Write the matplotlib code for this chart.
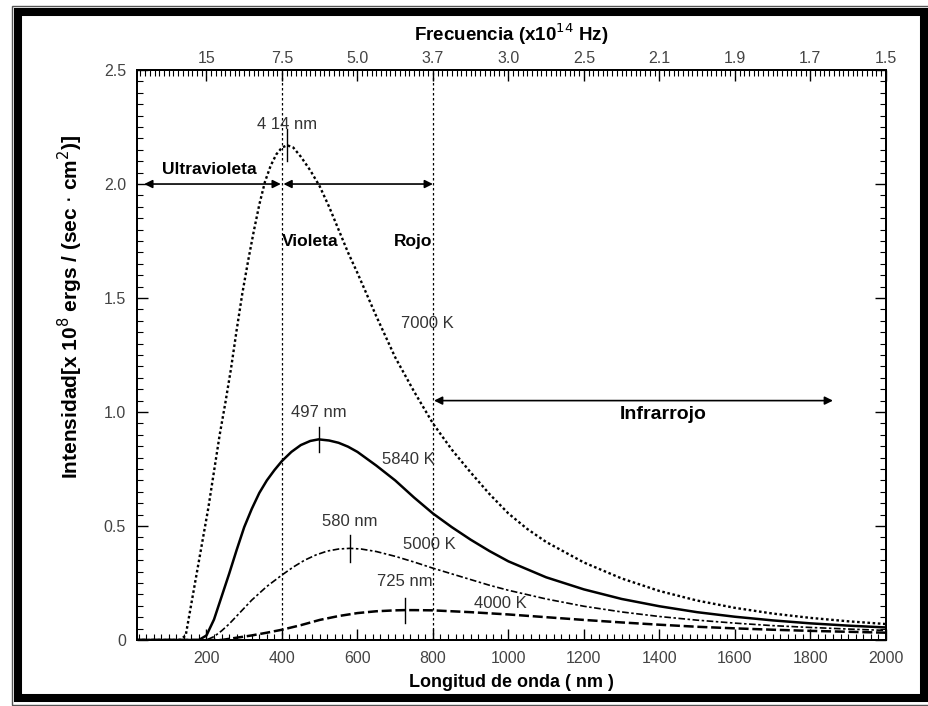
import matplotlib.pyplot as plt
from matplotlib.patches import Rectangle
from matplotlib.ticker import MultipleLocator

plt.rcParams['font.family'] = ['Liberation Sans Narrow', 'Liberation Sans', 'DejaVu Sans']

# -------------------------
# Data
# -------------------------
wl_7000 = [16, 130, 145, 160, 175, 190, 205, 220, 235, 250, 265, 280, 295, 310, 325, 340,
           355, 370, 385, 400, 414, 430, 450, 475, 500, 525, 550, 575, 600, 650, 700, 750,
           800, 850, 900, 950, 1000, 1050, 1100, 1200, 1300, 1400, 1500, 1600, 1700, 1800,
           1900, 2000]
i_7000 = [0.0, 0.0, 0.02, 0.16, 0.30, 0.44, 0.58, 0.74, 0.90, 1.04, 1.19, 1.36, 1.52, 1.66,
          1.79, 1.91, 2.01, 2.08, 2.13, 2.16, 2.17, 2.16, 2.12, 2.06, 1.99, 1.90, 1.80, 1.70,
          1.61, 1.42, 1.24, 1.09, 0.95, 0.835, 0.735, 0.64, 0.555, 0.487, 0.43, 0.34, 0.27,
          0.215, 0.173, 0.141, 0.116, 0.097, 0.082, 0.07]

wl_5840 = [16, 180, 200, 220, 240, 260, 280, 300, 320, 340, 360, 380, 400, 425, 450, 475,
           497, 525, 550, 575, 600, 650, 700, 750, 800, 850, 900, 950, 1000, 1100, 1200,
           1300, 1400, 1500, 1600, 1700, 1800, 1900, 2000]
i_5840 = [0.0, 0.0, 0.02, 0.09, 0.19, 0.29, 0.395, 0.495, 0.575, 0.645, 0.70, 0.745, 0.785,
          0.825, 0.855, 0.873, 0.88, 0.875, 0.865, 0.848, 0.825, 0.765, 0.70, 0.625, 0.555,
          0.495, 0.44, 0.39, 0.345, 0.275, 0.222, 0.18, 0.148, 0.122, 0.102, 0.086, 0.073,
          0.063, 0.055]

wl_5000 = [16, 200, 220, 240, 260, 280, 300, 320, 340, 360, 380, 400, 430, 460, 490, 520,
           550, 580, 610, 650, 700, 750, 800, 850, 900, 950, 1000, 1100, 1200, 1300, 1400,
           1500, 1600, 1700, 1800, 1900, 2000]
i_5000 = [0.0, 0.0, 0.015, 0.04, 0.07, 0.105, 0.14, 0.175, 0.205, 0.235, 0.26, 0.285, 0.32,
          0.35, 0.373, 0.39, 0.399, 0.402, 0.399, 0.388, 0.367, 0.342, 0.315, 0.29, 0.265,
          0.24, 0.218, 0.18, 0.148, 0.123, 0.103, 0.087, 0.074, 0.063, 0.055, 0.048, 0.042]

wl_4000 = [16, 240, 280, 320, 360, 400, 450, 500, 550, 600, 650, 700, 725, 750, 800, 900,
           1000, 1100, 1200, 1300, 1400, 1500, 1600, 1700, 1800, 1900, 2000]
i_4000 = [0.0, 0.0, 0.01, 0.02, 0.032, 0.045, 0.065, 0.088, 0.105, 0.118, 0.126, 0.13,
          0.131, 0.131, 0.13, 0.122, 0.112, 0.10, 0.088, 0.077, 0.067, 0.058, 0.051,
          0.045, 0.04, 0.036, 0.032]

temps = ['7000 K', '5840 K', '5000 K', '4000 K']
peak_nm = [414, 497, 580, 725]
peak_val = [2.17, 0.88, 0.40, 0.13]
peak_labels = ['4 14 nm', '497 nm', '580 nm', '725 nm']

# bottom axis ticks (nm) and the frequency labels shown on top
nm_ticks = [200, 400, 600, 800, 1000, 1200, 1400, 1600, 1800, 2000]
freq_labels = ['15', '7.5', '5.0', '3.7', '3.0', '2.5', '2.1', '1.9', '1.7', '1.5']

# -------------------------
# Figure
# -------------------------
fig = plt.figure(figsize=(9.29, 7.06), dpi=100)
ax = fig.add_axes([0.1475, 0.0935, 0.806, 0.8073])

ax.plot(wl_7000, i_7000, color='black', lw=1.7, linestyle=(0, (1.1, 1.1)))
ax.plot(wl_5840, i_5840, color='black', lw=1.8)
ax.plot(wl_5000, i_5000, color='black', lw=1.2, linestyle=(0, (4, 1.5, 1.5, 1.5)))
ax.plot(wl_4000, i_4000, color='black', lw=1.8, linestyle=(0, (4, 1.5)))

# visible band limits
for xv in [400, 800]:
    ax.axvline(xv, color='black', lw=0.9, linestyle=(0, (2, 2)))

# peak markers + labels
tick_half = [0.07, 0.055, 0.06, 0.055]
label_dy = [0.09, 0.12, 0.12, 0.125]
for nm, val, lab, th, dy in zip(peak_nm, peak_val, peak_labels, tick_half, label_dy):
    ax.plot([nm, nm], [val - th, val + th], color='black', lw=1.0)
    ax.text(nm, val + dy, lab, ha='center', va='center', fontsize=12, color='#333333')

# temperature labels
temp_pos = [(785, 1.39), (735, 0.79), (790, 0.42), (980, 0.16)]
for t, (tx, ty) in zip(temps, temp_pos):
    ax.text(tx, ty, t, ha='center', va='center', fontsize=12, color='#333333')

# region arrows
arrow_kw = dict(arrowstyle='<|-|>', color='black', lw=1.2, mutation_scale=12,
                shrinkA=0, shrinkB=0)
ax.annotate('', xy=(35, 2.0), xytext=(397, 2.0), arrowprops=arrow_kw)
ax.annotate('', xy=(404, 2.0), xytext=(800, 2.0), arrowprops=arrow_kw)
ax.annotate('', xy=(803, 1.05), xytext=(1860, 1.05), arrowprops=arrow_kw)

ax.text(208, 2.065, 'Ultravioleta', ha='center', va='center', fontsize=12.5, fontweight='bold')
ax.text(401, 1.75, 'Violeta', ha='left', va='center', fontsize=12.5, fontweight='bold')
ax.text(798, 1.75, 'Rojo', ha='right', va='center', fontsize=12.5, fontweight='bold')
ax.text(1410, 0.99, 'Infrarrojo', ha='center', va='center', fontsize=14, fontweight='bold')

# axes
ax.set_xlim(16, 2000)
ax.set_ylim(0, 2.5)
ax.set_xticks(nm_ticks)
ax.xaxis.set_minor_locator(MultipleLocator(20))
ax.set_yticks([0, 0.5, 1.0, 1.5, 2.0, 2.5])
ax.set_yticklabels(['0', '0.5', '1.0', '1.5', '2.0', '2.5'])
ax.yaxis.set_minor_locator(MultipleLocator(0.05))
ax.tick_params(which='both', direction='in', right=True, labelsize=11.5, labelcolor='#444444')
ax.tick_params(axis='x', which='both', top=False)
ax.tick_params(which='major', length=8, width=1.0)
ax.tick_params(which='minor', length=4, width=0.8)
ax.tick_params(axis='x', which='major', pad=8)
ax.tick_params(axis='y', which='major', pad=8)

ax.set_xlabel('Longitud de onda ( nm )', fontsize=13, fontweight='bold', labelpad=6)
ax.set_ylabel('Intensidad[x 10$^{8}$ ergs / (sec $\\cdot$ cm$^{2}$)]', fontsize=15,
              fontweight='bold')
ax.yaxis.set_label_coords(-0.07, 0.585)

ax2 = ax.twiny()
ax2.set_xlim(ax.get_xlim())
ax2.set_xticks(nm_ticks)
ax2.set_xticklabels(freq_labels)
ax2.xaxis.set_minor_locator(MultipleLocator(12.5))
ax2.tick_params(which='both', direction='in', labelsize=11.5, labelcolor='#444444', pad=3)
ax2.tick_params(which='major', length=8, width=1.0)
ax2.tick_params(which='minor', length=4, width=0.8)
ax2.set_xlabel('Frecuencia (x10$^{14}$ Hz)', fontsize=13.5, fontweight='bold', labelpad=7)

for a in [ax, ax2]:
    for s in a.spines.values():
        s.set_linewidth(1.4)

# picture frame
fig.patches.append(Rectangle((0.0199, 0.0113), 0.9747, 0.9717, transform=fig.transFigure,
                             fill=False, edgecolor='black', lw=5.8))
fig.patches.append(Rectangle((0.0129, 0.002), 0.99, 0.99, transform=fig.transFigure,
                             fill=False, edgecolor='#555555', lw=1.0))

plt.savefig('out.png', dpi=100)
plt.close()
